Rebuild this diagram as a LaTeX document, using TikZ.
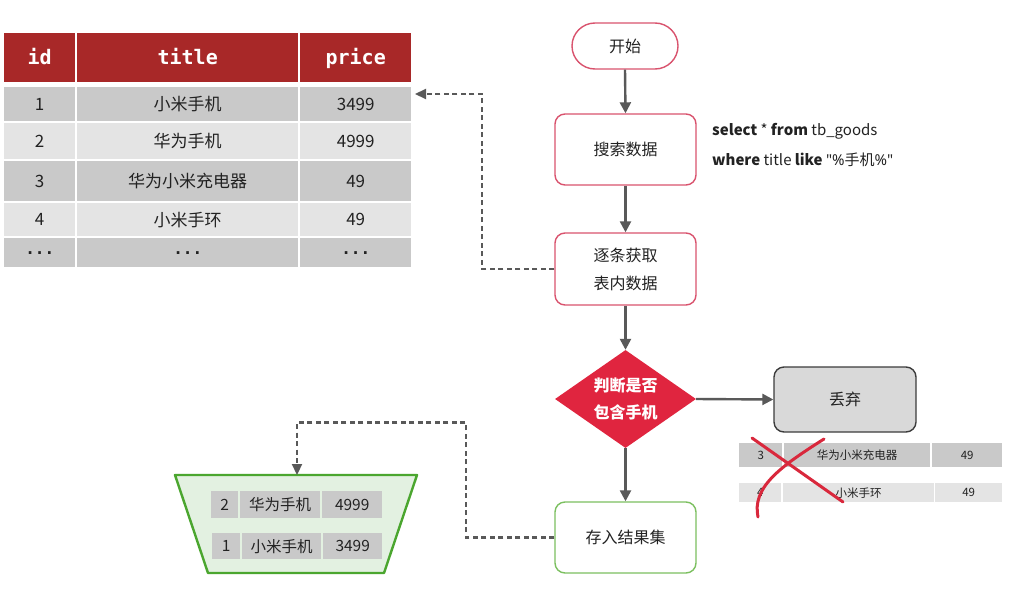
\documentclass[tikz,border=0pt]{standalone}
\usepackage{fontspec}
\setmainfont{Noto Sans CJK SC}
\newfontfamily\hmono{DejaVu Sans Mono}
\newfontfamily\lat{Noto Sans}
\usetikzlibrary{arrows.meta,shapes.geometric}
\definecolor{hdr}{HTML}{A82828}
\definecolor{drow}{HTML}{C9C9C9}
\definecolor{lrow}{HTML}{E4E4E4}
\definecolor{pinkb}{HTML}{D9536E}
\definecolor{arrg}{HTML}{595959}
\definecolor{diafill}{HTML}{E0253F}
\definecolor{greenb}{HTML}{7CC060}
\definecolor{trapb}{HTML}{4BA62F}
\definecolor{trapf}{HTML}{E3F1E1}
\definecolor{dropf}{HTML}{D9D9D9}
\definecolor{dropb}{HTML}{3C3C3C}
\definecolor{xred}{HTML}{D9283C}
\definecolor{txt}{HTML}{222222}
\newcommand\fs[1]{\fontsize{#1}{#1}\selectfont}
\newcommand\mydots{{\hmono\bfseries\fs{16}...}}
\tikzset{
 cell/.style={inner sep=0pt, anchor=north west, text=txt, font=\fs{17}},
 hcell/.style={cell, fill=hdr, text=white, font=\hmono\bfseries\fs{20}, text height=17pt, text depth=4pt},
 fbox/.style={draw=pinkb, line width=1.4pt, rounded corners=10pt, fill=white, align=center, text=txt, font=\fontsize{16}{28}\selectfont, inner sep=0pt},
 flow/.style={draw=arrg, line width=2.4pt, -{Triangle[length=11pt,width=11pt]}},
 dashy/.style={draw=arrg, line width=2.2pt, dash pattern=on 5pt off 3.5pt, -{Triangle[length=11pt,width=10pt]}},
}
\newcommand\trow[7]{%
 \node[cell, fill=#4, minimum width=71pt, minimum height={#3pt-#2pt}] (#1a) at (4,#2) {#5};
 \node[cell, fill=#4, minimum width=221pt, minimum height={#3pt-#2pt}] (#1b) at (77,#2) {#6};
 \node[cell, fill=#4, minimum width=111pt, minimum height={#3pt-#2pt}] (#1c) at (300,#2) {#7};
}
\begin{document}
\begin{tikzpicture}[x=1pt,y=-1pt]
\useasboundingbox (0,0) rectangle (1019,597);
\fill[white] (0,0) rectangle (1019,597);
% main table
\node[hcell, minimum width=71pt, minimum height=49pt] (hid) at (4,33) {id};
\node[hcell, minimum width=221pt, minimum height=49pt] (htitle) at (77,33) {title};
\node[hcell, minimum width=111pt, minimum height=49pt] (hprice) at (300,33) {price};
\trow{ra}{87}{121}{drow}{1}{小米手机}{3499}
\trow{rb}{123}{159}{lrow}{2}{华为手机}{4999}
\trow{rc}{161}{201}{drow}{3}{华为小米充电器}{49}
\trow{rd}{203}{236}{lrow}{4}{小米手环}{49}
\trow{re}{238}{267}{drow}{\mydots}{\mydots}{\mydots}
\coordinate (t1) at (415,94);
% flowchart
\node[fbox, rounded corners=23pt, minimum width=106pt, minimum height=46pt] (start) at (625,46) {开始};
\node[fbox, minimum width=141pt, minimum height=71pt] (search) at (625.5,149.5) {搜索数据};
\node[fbox, minimum width=141pt, minimum height=72pt] (get) at (625.5,269) {逐条获取\\表内数据};
\node[diamond, fill=diafill, inner sep=0pt, aspect=1.44, minimum width=141pt, minimum height=98pt, text=white, align=center, font=\bfseries\fontsize{16}{27}\selectfont] (dia) at (625.5,399) {判断是否\\包含手机};
\node[fbox, draw=dropb, fill=dropf, minimum width=142pt, minimum height=65pt] (drop) at (845,399.5) {丢弃};
\node[fbox, draw=greenb, minimum width=141pt, minimum height=71pt] (store) at (625.5,537.5) {存入结果集};
\node[anchor=west, inner sep=0pt, text=txt, font=\fs{15}] (sql1) at (712,131) {\textbf{select} * \textbf{from} tb\_goods};
\node[anchor=west, inner sep=0pt, text=txt, font=\fs{15}] (sql2) at (712,160) {\textbf{where} title \textbf{like} {\lat"\%}手机{\lat\%"}};
\draw[flow] (start.south) -- (search.north);
\draw[flow] (search.south) -- (get.north);
\draw[flow] (get.south) -- (dia.north);
\draw[flow] (dia.east) -- (drop.west);
\draw[flow] (dia.south) -- (store.north);
% discarded rows
\node[cell, fill=drow, minimum width=43pt, minimum height=24pt, font=\fs{11.5}] (da) at (739,443) {3};
\node[cell, fill=drow, minimum width=146pt, minimum height=24pt, font=\fs{11.5}] (db) at (784,443) {华为小米充电器};
\node[cell, fill=drow, minimum width=70pt, minimum height=24pt, font=\fs{11.5}] (dc) at (932,443) {49};
\node[cell, fill=lrow, minimum width=42pt, minimum height=19pt, font=\fs{11.5}] (ea) at (739,483) {4};
\node[cell, fill=lrow, minimum width=151pt, minimum height=19pt, font=\fs{11.5}] (eb) at (783,483) {小米手环};
\node[cell, fill=lrow, minimum width=67pt, minimum height=19pt, font=\fs{11.5}] (ec) at (935,483) {49};
\draw[xred, line width=3pt, line cap=round] (752,438) -- (843,502);
\draw[xred, line width=3pt, line cap=round] (824,439) .. controls (778,468) and (752,488) .. (758,517);
% result set trapezoid
\draw[trapb, fill=trapf, line width=2.4pt, line join=round] (175,475) -- (417,475) -- (384,573) -- (208,573) -- cycle;
\coordinate (rt) at (297,475);
\node[cell, fill=drow, minimum width=27pt, minimum height=27pt, font=\fs{15.5}] (fa) at (211,491) {2};
\node[cell, fill=drow, minimum width=80pt, minimum height=27pt, font=\fs{15.5}] (fb) at (240,491) {华为手机};
\node[cell, fill=drow, minimum width=60pt, minimum height=27pt, font=\fs{15.5}] (fc) at (322,491) {4999};
\node[cell, fill=drow, minimum width=28pt, minimum height=26pt, font=\fs{15.5}] (ga) at (212,533) {1};
\node[cell, fill=drow, minimum width=79pt, minimum height=26pt, font=\fs{15.5}] (gb) at (242,533) {小米手机};
\node[cell, fill=drow, minimum width=59pt, minimum height=26pt, font=\fs{15.5}] (gc) at (323,533) {3499};
% dashed connectors
\draw[dashy] (get.west) -- ++(-72,0) |- (t1);
\draw[dashy] (store.west) -| ++(-88,-115) -| (rt);
\end{tikzpicture}
\end{document}
